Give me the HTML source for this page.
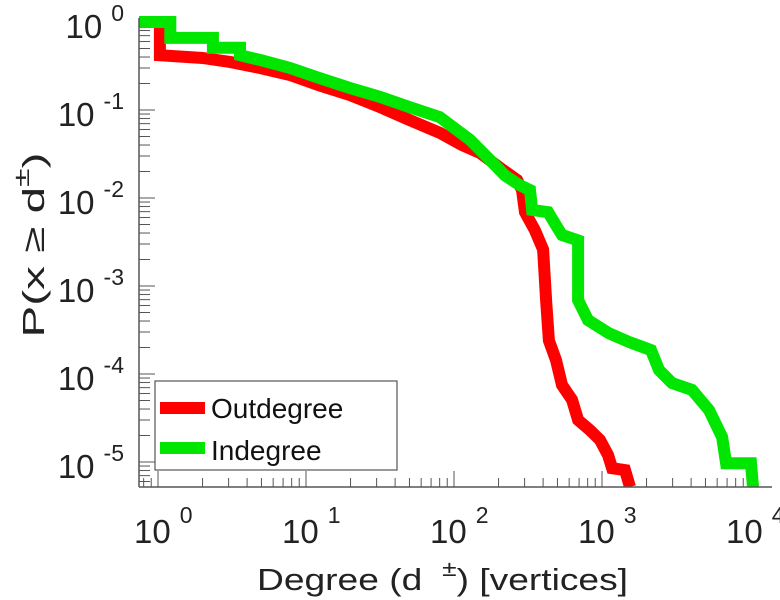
<!DOCTYPE html>
<html><head><meta charset="utf-8"><style>
html,body{margin:0;padding:0;background:#fff;}
svg{display:block;font-family:"Liberation Sans",sans-serif;}
</style></head><body>
<svg id="chart" width="780" height="600" viewBox="0 0 780 600" xmlns="http://www.w3.org/2000/svg">
<defs><clipPath id="plotclip"><rect x="139" y="10" width="640" height="477"/></clipPath></defs>
<g id="ticks"></g>
<g id="series" clip-path="url(#plotclip)"></g>
<line x1="139" y1="18" x2="139" y2="487" stroke="#555" stroke-width="1.5"/>
<line x1="139" y1="487" x2="772" y2="487" stroke="#555" stroke-width="1.5"/>
<g id="ylabels" fill="#222"></g>
<g id="xlabels" fill="#222"></g>
<text transform="translate(44,245) rotate(-90)" text-anchor="middle" font-size="31" fill="#222" textLength="185" lengthAdjust="spacingAndGlyphs">P(x ≥ d<tspan font-size="22" dy="-15">±</tspan><tspan dy="15">)</tspan></text>
<text x="257" y="590" font-size="31" fill="#222" textLength="371" lengthAdjust="spacingAndGlyphs">Degree (d <tspan font-size="22" dx="8" dy="-14">±</tspan><tspan dy="14">) [vertices]</tspan></text>
<g>
<rect x="155" y="381" width="242" height="89" fill="#fff" stroke="#555" stroke-width="1.2"/>
<line x1="160" y1="408" x2="205" y2="408" stroke="#ff0000" stroke-width="12"/>
<text x="211" y="418" font-size="28" fill="#111">Outdegree</text>
<line x1="160" y1="448" x2="205" y2="448" stroke="#00e600" stroke-width="12"/>
<text x="211" y="460" font-size="28" fill="#111">Indegree</text>
</g>
</svg>
<script>
const outDeg = [0.74,1.03,1.03,2.0,3.1,4.9,7.8,12.4,19.8,31.6,50,80,113,150,205,267,288,302,352,400,419,438,489,537,627,689,830,969,1098,1170,1430,1545];
const outP = [1,1,0.42,0.39,0.35,0.30,0.25,0.19,0.148,0.108,0.077,0.055,0.040,0.0325,0.022,0.016,0.0123,0.0069,0.0043,0.0026,0.00069,0.00024,0.000144,7.5e-5,5.1e-5,3.0e-5,2.3e-5,1.78e-5,1.2e-5,8.5e-6,8.1e-6,5.2e-6];
const inDeg = [0.74,1.21,1.21,2.35,2.35,3.58,3.58,4.9,7.8,12.4,19.8,31.6,50,80,101,128,175,221,278,326,337,432,489,537,689,689,804,1115,1536,2143,2427,2972,4055,5286,6477,6890,10160,10480];
const inP = [1,1,0.66,0.66,0.51,0.51,0.42,0.37,0.30,0.23,0.178,0.141,0.108,0.083,0.062,0.046,0.027,0.018,0.014,0.0123,0.0073,0.0069,0.0049,0.0038,0.0033,0.00069,0.00041,0.00029,0.00023,0.000187,0.000111,7.9e-5,6.6e-5,3.9e-5,1.92e-5,9.7e-6,9.7e-6,5.2e-6];
const xTickExp = [0,1,2,3,4];
const yTickExp = [0,-1,-2,-3,-4,-5];

const NS = "http://www.w3.org/2000/svg";
function xs(d){ return 158 + 148*Math.log10(d); }
function ys(p){ return 22 - 88*Math.log10(p); }
function mk(tag, attrs, parent){ const e=document.createElementNS(NS,tag); for(const k in attrs) e.setAttribute(k,attrs[k]); parent.appendChild(e); return e; }

const ticks = document.getElementById('ticks');
for (let e=0; e>=-6; e--) {
  for (let m=1; m<10; m++) {
    const y = ys(m*Math.pow(10,e));
    if (y < 18 || y > 487) continue;
    const t = mk('line',{x1:139,y1:y,x2:139+(m===1?16:11),y2:y,stroke:'#555','stroke-width':1},ticks);
    
    
  }
}
for (let e=-1; e<=4; e++) {
  for (let m=1; m<10; m++) {
    const x = xs(m*Math.pow(10,e));
    if (x < 139 || x > 772) continue;
    const t = mk('line',{x1:x,y1:487,x2:x,y2:487-(m===1?16:9),stroke:'#555','stroke-width':1},ticks);
    
    
  }
}
const series = document.getElementById('series');
function drawSeries(ds, ps, color, name){
  const pts = ds.map((d,i)=>xs(d).toFixed(1)+','+ys(ps[i]).toFixed(1)).join(' ');
  const pl = mk('polyline',{points:pts,fill:'none',stroke:color,'stroke-width':12,'stroke-linejoin':'miter','stroke-linecap':'butt'},series);
  
  
}
drawSeries(outDeg,outP,'#ff0000','outdegree-line');
drawSeries(inDeg,inP,'#00e600','indegree-line');
const yl = document.getElementById('ylabels');
yTickExp.forEach(e=>{
  const y = ys(Math.pow(10,e));
  const t = mk('text',{x:124,y:y+16,'text-anchor':'end','font-size':33},yl);
  
  
  t.appendChild(document.createTextNode('10'));
  const s = mk('tspan',{dx:9,dy:-17,'font-size':23},t);
  s.textContent = String(e);
});
const xl = document.getElementById('xlabels');
xTickExp.forEach(e=>{
  const x = xs(Math.pow(10,e)) - 24;
  const t = mk('text',{x:x,y:543,'font-size':33},xl);
  
  
  t.appendChild(document.createTextNode('10'));
  const s = mk('tspan',{dx:9,dy:-20,'font-size':23},t);
  s.textContent = String(e);
});
</script>
</body></html>
